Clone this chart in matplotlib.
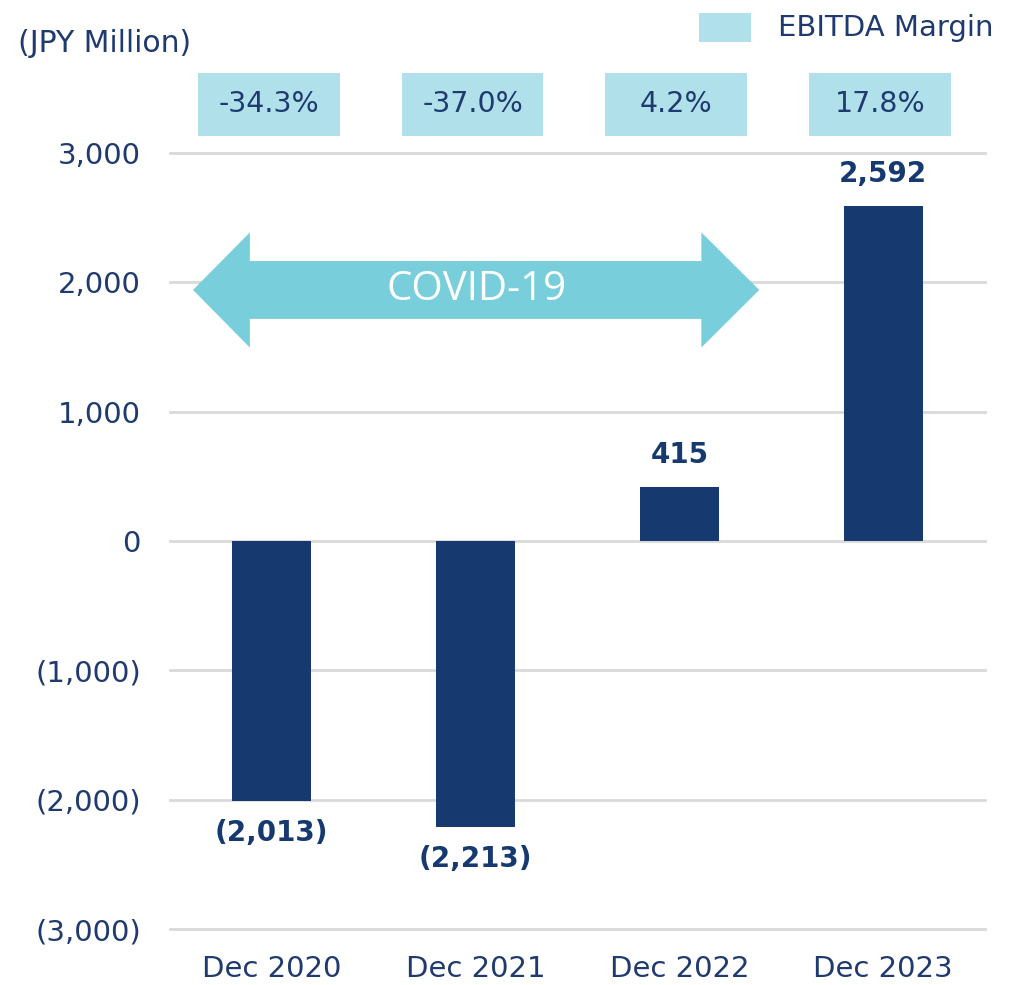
import matplotlib
matplotlib.use("Agg")
import matplotlib.pyplot as plt
from matplotlib.patches import Rectangle, Polygon
from matplotlib.ticker import FuncFormatter

categories = ["Dec 2020", "Dec 2021", "Dec 2022", "Dec 2023"]
ebitda = [-2013, -2213, 415, 2592]
margins = ["-34.3%", "-37.0%", "4.2%", "17.8%"]
yticks = [-3000, -2000, -1000, 0, 1000, 2000, 3000]

NAVY = "#163A70"
TEXT = "#1F3A6E"
LIGHT = "#B0E1EA"
ARROW = "#78CEDB"
GRID = "#D9D9D9"

plt.rcParams['font.family'] = ['DejaVu Sans']

fig = plt.figure(figsize=(10.2, 9.85), dpi=100)
ax = fig.add_axes([170/1020, 1-929/985, 815/1020, (929-153)/985])

x = list(range(len(categories)))
ax.bar(x, ebitda, width=0.387, color=NAVY, zorder=3)
ax.set_xlim(-0.5, 3.5)
ax.set_ylim(-3000, 3000)
ax.set_yticks(yticks)
ax.yaxis.set_major_formatter(FuncFormatter(lambda v, p: f"({abs(v):,.0f})" if v < 0 else f"{v:,.0f}"))
ax.set_xticks(x)
ax.set_xticklabels(categories)
ax.tick_params(axis='both', length=0, labelsize=21, colors=TEXT)
ax.tick_params(axis='y', pad=21)
ax.tick_params(axis='x', pad=19)
ax.grid(axis='y', color=GRID, linewidth=2, zorder=0)
for gl in ax.yaxis.get_gridlines():
    gl.set_clip_on(False)
for s in ax.spines.values():
    s.set_visible(False)

# value labels
for xi, v in zip(x, ebitda):
    lbl = f"({abs(v):,})" if v < 0 else f"{v:,}"
    off = 23 if v >= 0 else -23
    ax.annotate(lbl, (xi, v), xytext=(0, off), textcoords="offset points",
                ha='center', va='center', fontsize=20, fontweight='bold', color=NAVY)

# margin boxes
for xi, m in zip(x, margins):
    cx = xi - 0.015
    ax.add_patch(Rectangle((cx - 0.348, 3132), 0.696, 487, facecolor=LIGHT,
                           edgecolor='none', clip_on=False, zorder=3))
    ax.text(cx, 3375, m, ha='center', va='center', fontsize=20.5, color=TEXT, zorder=4)

# COVID arrow
yc, sh, hh = 1941, 224, 445
xl, xlb, xrb, xr = -0.387, -0.108, 2.108, 2.392
pts = [(xl, yc), (xlb, yc + hh), (xlb, yc + sh), (xrb, yc + sh), (xrb, yc + hh),
       (xr, yc), (xrb, yc - hh), (xrb, yc - sh), (xlb, yc - sh), (xlb, yc - hh)]
ax.add_patch(Polygon(pts, closed=True, facecolor=ARROW, edgecolor='none', zorder=4))
ax.text((xl + xr) / 2, yc, "COVID-19", ha='center', va='center', fontsize=29,
        color='white', family='Open Sans', zorder=5)

# unit label and legend
fig.text(18/1020, 1-43/985, "(JPY Million)", ha='left', va='center', fontsize=21.5, color=TEXT)
fig.patches.append(Rectangle((699/1020, 1-42/985), 52/1020, 29/985, facecolor=LIGHT,
                             edgecolor='none', transform=fig.transFigure, figure=fig))
fig.text(778/1020, 1-28/985, "EBITDA Margin", ha='left', va='center', fontsize=21, color=TEXT)

fig.savefig("out.png", dpi=100)
